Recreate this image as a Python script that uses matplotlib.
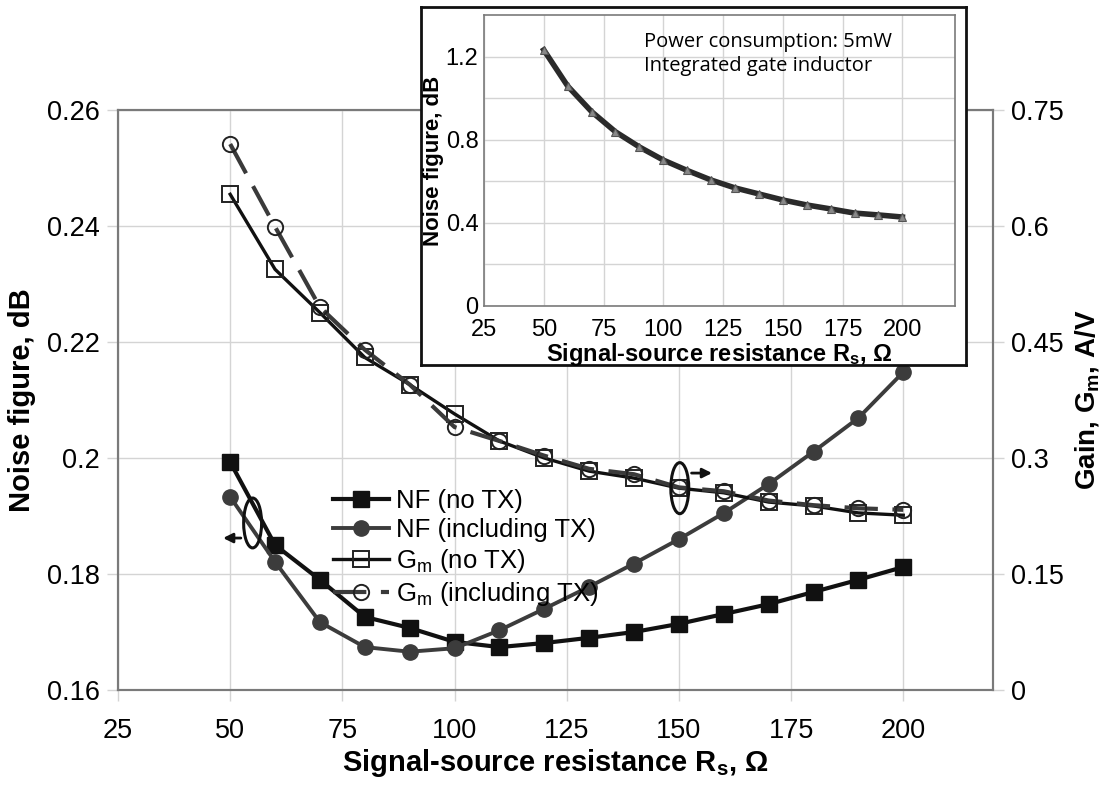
import numpy as np
import matplotlib
matplotlib.use("Agg")
import matplotlib.pyplot as plt
from matplotlib.patches import Ellipse

plt.rcParams["font.family"] = ["Liberation Sans", "DejaVu Sans"]
plt.rcParams["mathtext.default"] = "regular"

# Source resistance sweep, ohm
rs = [50, 60, 70, 80, 90, 100, 110, 120, 130, 140, 150, 160, 170, 180, 190, 200]

# Noise figure, dB (left axis)
nf_no_tx = [0.1993, 0.1850, 0.1790, 0.1726, 0.1707, 0.1683, 0.1674, 0.1681,
            0.1690, 0.1700, 0.1714, 0.1731, 0.1748, 0.1769, 0.1790, 0.1812]
nf_with_tx = [0.1933, 0.1821, 0.1717, 0.1674, 0.1666, 0.1672, 0.1703, 0.1740,
              0.1778, 0.1818, 0.1860, 0.1905, 0.1955, 0.2011, 0.2069, 0.2148]

# Transconductance gain, A/V (right axis)
gm_no_tx = [0.641, 0.544, 0.488, 0.430, 0.395, 0.357, 0.322, 0.300,
            0.283, 0.274, 0.261, 0.255, 0.243, 0.238, 0.229, 0.226]
gm_with_tx = [0.706, 0.599, 0.495, 0.440, 0.395, 0.340, 0.322, 0.303,
              0.286, 0.279, 0.262, 0.257, 0.245, 0.239, 0.235, 0.233]

# Inset: NF with integrated gate inductor, 5 mW
nf_inset = [1.232, 1.058, 0.935, 0.838, 0.765, 0.702, 0.652, 0.606,
            0.568, 0.539, 0.510, 0.486, 0.467, 0.447, 0.438, 0.428]

x_ticks = [25, 50, 75, 100, 125, 150, 175, 200]
nf_ticks = [0.16, 0.18, 0.20, 0.22, 0.24, 0.26]
nf_tick_labels = ["0.16", "0.18", "0.2", "0.22", "0.24", "0.26"]
gm_ticks = [0, 0.15, 0.30, 0.45, 0.60, 0.75]
gm_tick_labels = ["0", "0.15", "0.3", "0.45", "0.6", "0.75"]
inset_ticks = [0, 0.4, 0.8, 1.2]
inset_tick_labels = ["0", "0.4", "0.8", "1.2"]

W, H = 1109, 785
fig = plt.figure(figsize=(W / 100, H / 100), dpi=100)

spine_c = "#7a7a7a"
grid_c = "#d4d4d4"

ax = fig.add_axes([118 / W, 1 - 690 / H, (993 - 118) / W, (690 - 110) / H])
ax.set_zorder(1)
ax.set_xlim(25, 220)
ax.set_ylim(0.16, 0.26)
ax.set_xticks(x_ticks)
ax.set_yticks(nf_ticks)
ax.set_yticklabels(nf_tick_labels)
ax.grid(True, color=grid_c, lw=1.0)
ax.set_axisbelow(True)
ax.tick_params(labelsize=19.5, length=8, width=1, color=grid_c, pad=5)
ax.tick_params(axis="x", pad=12)
for s in ax.spines.values():
    s.set_color(spine_c)
    s.set_linewidth(1.5)

ax.plot(rs, nf_no_tx, color="#111111", lw=3, marker="s", ms=11,
        mfc="#111111", mec="#111111", label="NF (no TX)", zorder=3)
ax.plot(rs, nf_with_tx, color="#3c3c3c", lw=2.8, marker="o", ms=11,
        mfc="#3c3c3c", mec="#3c3c3c", label="NF (including TX)", zorder=3)

ax.set_xlabel("Signal-source resistance R$_\\mathregular{s}$, Ω", fontsize=21,
              fontweight="bold", labelpad=2)
ax.set_ylabel("Noise figure, dB", fontsize=21, fontweight="bold", labelpad=8)

ax2 = ax.twinx()
ax2.set_zorder(2)
ax2.patch.set_visible(False)
ax2.set_ylim(0, 0.75)
ax2.set_yticks(gm_ticks)
ax2.set_yticklabels(gm_tick_labels)
ax2.tick_params(labelsize=19.5, length=8, width=1, color=grid_c, pad=5)
for s in ax2.spines.values():
    s.set_color(spine_c)
    s.set_linewidth(1.5)

ax2.plot(rs, gm_no_tx, color="#111111", lw=2.4, marker="s", ms=11,
         mfc="none", mec="#222222", mew=1.4, label="G$_m$ (no TX)", zorder=3)
ax2.plot(rs, gm_with_tx, color="#3a3a3a", lw=3, ls=(0, (8, 3.5)), marker="o",
         ms=11, mfc="none", mec="#222222", mew=1.4,
         label="G$_m$ (including TX)", zorder=3)
ax2.set_ylabel("Gain, G$_m$, A/V", fontsize=20, fontweight="bold")
ax2.yaxis.set_label_coords((1073 - 118) / (993 - 118), 0.5)

# group markers: which curves belong to which axis
ax2.add_patch(Ellipse((55.0, 0.1888), 4.0, 0.0086, transform=ax.transData,
                      fill=False, ec="#111111", lw=2.2, zorder=5))
ax2.annotate("", xy=(47.8, 0.1862), xytext=(53.0, 0.1862),
             xycoords=ax.transData,
             arrowprops=dict(arrowstyle="-|>", color="#111111", lw=2,
                             mutation_scale=14), zorder=5)
ax2.add_patch(Ellipse((150.2, 0.1948), 4.0, 0.0088, transform=ax.transData,
                      fill=False, ec="#111111", lw=2.2, zorder=5))
ax2.annotate("", xy=(158.0, 0.1974), xytext=(152.2, 0.1974),
             xycoords=ax.transData,
             arrowprops=dict(arrowstyle="-|>", color="#111111", lw=2,
                             mutation_scale=14), zorder=5)

h1, l1 = ax.get_legend_handles_labels()
h2, l2 = ax2.get_legend_handles_labels()
ax2.legend(h1 + h2, l1 + l2, loc="upper left",
           bbox_to_anchor=(320 / W, 1 - 476 / H), bbox_transform=fig.transFigure,
           frameon=False, fontsize=18.5, handlelength=2.2, handletextpad=0.25,
           labelspacing=0.2, borderpad=0)

# inset panel
frame = fig.add_axes([421 / W, 1 - 365 / H, (966 - 421) / W, (365 - 7) / H])
frame.set_zorder(3)
frame.set_xticks([])
frame.set_yticks([])
for s in frame.spines.values():
    s.set_color("#111111")
    s.set_linewidth(2)

ins = fig.add_axes([484 / W, 1 - 306 / H, (955 - 484) / W, (306 - 15) / H])
ins.set_zorder(4)
ins.set_xlim(25, 222)
ins.set_ylim(0, 1.4)
ins.set_xticks(x_ticks)
ins.set_yticks(inset_ticks)
ins.set_yticklabels(inset_tick_labels)
ins.set_yticks([0.2, 0.6, 1.0], minor=True)
ins.grid(True, which="both", color=grid_c, lw=1.0)
ins.set_axisbelow(True)
ins.tick_params(labelsize=17, length=0, pad=4)
ins.tick_params(axis="x", pad=9)
ins.tick_params(which="minor", length=0)
for s in ins.spines.values():
    s.set_color(spine_c)
    s.set_linewidth(1.2)
ins.plot(rs, nf_inset, color="#2a2a2a", lw=4, marker="^", ms=6,
         mfc="#888888", mec="#555555", mew=0.8)
ins.set_xlabel("Signal-source resistance R$_\\mathregular{s}$, Ω", fontsize=17,
               fontweight="bold", labelpad=0)
ins.set_ylabel("Noise figure, dB", fontsize=16, fontweight="bold", labelpad=1)
ins.text(0.34, 0.94, "Power consumption: 5mW\nIntegrated gate inductor",
         transform=ins.transAxes, ha="left", va="top", fontsize=14.5,
         family=["Open Sans", "DejaVu Sans"], linespacing=1.25)

fig.savefig("out.png", dpi=100)
